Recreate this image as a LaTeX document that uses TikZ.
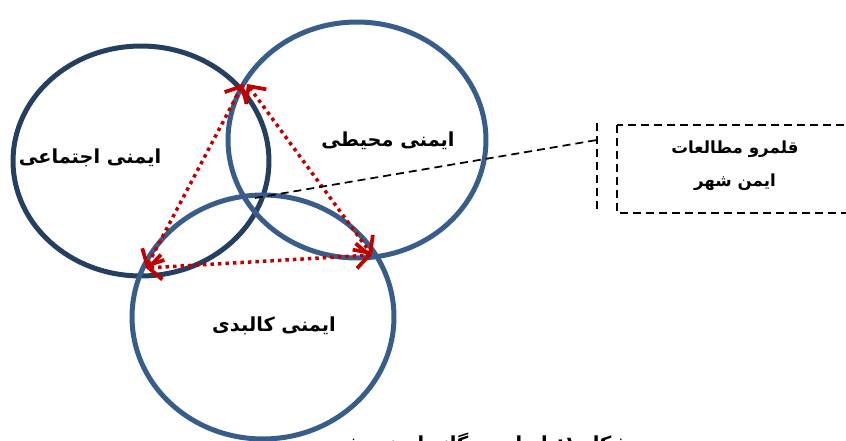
\documentclass[tikz,border=0pt]{standalone}
\usepackage{fontspec}
\usetikzlibrary{arrows.meta,shapes.geometric,positioning}
\newfontfamily\farsi[Script=Arabic]{DejaVu Sans}
\TeXXeTstate=1
\definecolor{ringnavy}{RGB}{36,63,96}
\definecolor{ringblue}{RGB}{56,93,138}
\definecolor{linkred}{RGB}{192,0,0}

\begin{document}
\begin{tikzpicture}[x=0.02cm, y=-0.02cm,
    ring/.style={ellipse, draw=ringblue, line width=0.1cm, inner sep=0pt},
    tag/.style={font=\farsi\bfseries\fontsize{11}{14}\selectfont, align=center},
    link/.style={{Straight Barb[length=0.26cm,width=0.5cm,line width=0.075cm]}-{Straight Barb[length=0.26cm,width=0.5cm,line width=0.075cm]},
        draw=linkred, line width=0.07cm, dash pattern=on 0.07cm off 0.08cm},
    leader/.style={draw=black, line width=0.035cm, dash pattern=on 0.16cm off 0.1cm}
]
\useasboundingbox (0,0) rectangle (846,440);
\clip (0,0) rectangle (846,440);

% the three circles
\node[ring, draw=ringnavy, minimum width=5.12cm, minimum height=4.6cm] (social) at (141,161) {};
\node[ring, minimum width=5.16cm, minimum height=4.72cm] (environ) at (357,140) {};
\node[ring, minimum width=5.24cm, minimum height=4.88cm] (physical) at (263,317) {};

\node[tag] (socialtxt) at (90,158) {\beginR ایمنی اجتماعی\endR};
\node[tag] (environtxt) at (388,141) {\beginR ایمنی محیطی\endR};
\node[tag] (physicaltxt) at (274,326) {\beginR ایمنی کالبدی\endR};

% links between the dimensions
\coordinate (topa) at (243,84);
\coordinate (topb) at (247,84);
\coordinate (lft) at (146,268);
\coordinate (rgt) at (372,255);
\draw[link] (topa) -- (lft);
\draw[link] (topb) -- (rgt);
\draw[link] (lft) -- (rgt);

% study domain
\coordinate (hub) at (255,198);
\coordinate (bartop) at (597,123);
\coordinate (barbot) at (597,211);
\coordinate (barmid) at (597,140);
\draw[leader] (bartop) -- (barbot);
\draw[leader] (hub) -- (barmid);
\draw[leader] (617,125) rectangle (870,213);
\node[tag, font=\farsi\bfseries\fontsize{9.5}{19}\selectfont] (domain) at (735,166) {\beginR قلمرو مطالعات\endR\\ \beginR ایمن شهر\endR};

\node[tag, anchor=base] (caption) at (475,450) {\beginR شکل ۱: ابعاد سه‌گانه ایمنی شهر\endR};
\end{tikzpicture}
\end{document}
